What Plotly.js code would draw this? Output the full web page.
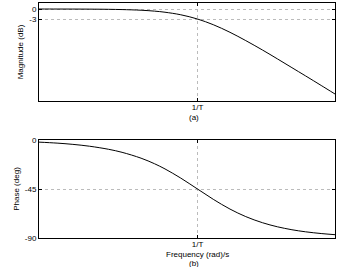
<!DOCTYPE html>
<html><head><meta charset="utf-8">
<script src="https://cdn.plot.ly/plotly-3.0.1.min.js"></script>
<style>html,body{margin:0;padding:0;background:#fff;}#c{width:338px;height:267px;}</style>
</head><body><div id="c"></div>
<script>
// frequency samples (rad/s, relative to 1/T)
const freq = [0.034, 0.05, 0.07, 0.1, 0.15, 0.2, 0.3, 0.4, 0.5, 0.7, 1, 1.4, 2, 2.8, 4, 5.5, 7.5, 10, 14, 18.8];
// magnitude in dB
const magDb = [-0.005, -0.011, -0.021, -0.043, -0.097, -0.17, -0.37, -0.64, -0.97, -1.73, -3.01, -4.71, -6.99, -9.48, -12.3, -14.96, -17.6, -20.04, -22.94, -25.5];
// phase in degrees
const phaseDeg = [-1.95, -2.86, -4.0, -5.71, -8.53, -11.31, -16.7, -21.8, -26.57, -34.99, -45, -54.46, -63.43, -70.35, -75.96, -79.7, -82.41, -84.29, -85.91, -86.96];
const xTickVals = [1];
const xTickText = ['1/T'];
const magTicks = [0, -3];
const phaseTicks = [0, -45, -90];

const font = {family: 'Liberation Sans, Arial, sans-serif', size: 8, color: '#000'};
const axisBase = {
  showline: true, linecolor: '#000', linewidth: 1, mirror: 'allticks',
  ticks: 'inside', ticklen: 3, tickcolor: '#000',
  showgrid: true, gridcolor: '#bbb', griddash: 'dot', gridwidth: 1,
  zeroline: false, tickfont: font
};
const xr = [Math.log10(0.034), Math.log10(18.8)];
const data = [
  {x: freq, y: magDb, xaxis: 'x', yaxis: 'y', mode: 'lines', line: {color: '#000', width: 1, shape: 'spline'}, hoverinfo: 'none'},
  {x: freq, y: phaseDeg, xaxis: 'x2', yaxis: 'y2', mode: 'lines', line: {color: '#000', width: 1, shape: 'spline'}, hoverinfo: 'none'}
];
const layout = {
  width: 338, height: 267,
  margin: {l: 39, r: 3, t: 3, b: 29},
  paper_bgcolor: '#fff', plot_bgcolor: '#fff',
  showlegend: false, font: font,
  xaxis: Object.assign({}, axisBase, {type: 'log', range: xr, domain: [0, 1], anchor: 'y', tickvals: xTickVals, ticktext: xTickText, ticklabelstandoff: -2}),
  yaxis: Object.assign({}, axisBase, {range: [-27.6, 1.8], domain: [0.583, 1], anchor: 'x', tickvals: magTicks, ticktext: magTicks.map(String),
    title: {text: 'Magnitude (dB)', font: font, standoff: 4}}),
  xaxis2: Object.assign({}, axisBase, {type: 'log', range: xr, domain: [0, 1], anchor: 'y2', tickvals: xTickVals, ticktext: xTickText, ticklabelstandoff: -2}),
  yaxis2: Object.assign({}, axisBase, {range: [-90, 0], domain: [0, 0.417], anchor: 'x2', tickvals: phaseTicks, ticktext: phaseTicks.map(String),
    title: {text: 'Phase (deg)', font: font, standoff: 4}}),
  annotations: [
    {text: '(a)', xref: 'x', yref: 'paper', x: Math.log10(0.92), y: 0.583, yshift: -10, showarrow: false, font: font, yanchor: 'top'},
    {text: 'Frequency (rad)/s', xref: 'x2', yref: 'paper', x: 0, y: 0, yshift: -10, showarrow: false, font: font, yanchor: 'top'},
    {text: '(b)', xref: 'x2', yref: 'paper', x: Math.log10(0.92), y: 0, yshift: -19, showarrow: false, font: font, yanchor: 'top'}
  ]
};
Plotly.newPlot('c', data, layout, {staticPlot: true, displayModeBar: false});
</script></body></html>
